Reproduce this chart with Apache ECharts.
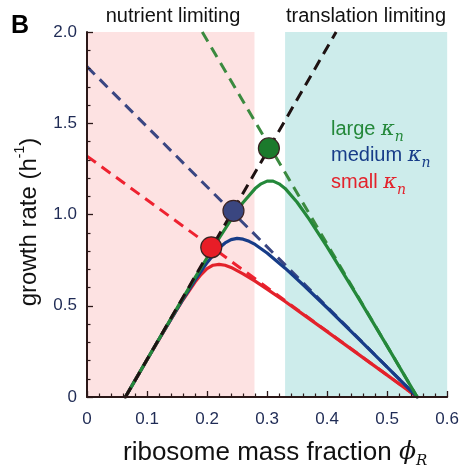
<!DOCTYPE html>
<html><head><meta charset="utf-8">
<script src="https://cdn.jsdelivr.net/npm/echarts@6/dist/echarts.min.js"></script>
<style>html,body{margin:0;padding:0;background:#fff}#c{width:462px;height:467px}</style>
</head><body><div id="c"></div>
<script>
// ---- data ----
const xTicks = [0, 0.1, 0.2, 0.3, 0.4, 0.5, 0.6];
const yTicks = [0, 0.5, 1.0, 1.5, 2.0];
const nutrientRegion = [0, 0.279];
const translationRegion = [0.33, 0.6];

const smallPhi  = [0.064,0.08,0.10,0.12,0.14,0.16,0.18,0.19,0.20,0.21,0.22,0.23,0.24,0.26,0.28,0.30,0.33,0.36,0.40,0.45,0.50,0.55];
const smallRate = [0,0.091,0.204,0.316,0.427,0.533,0.630,0.671,0.703,0.722,0.727,0.722,0.710,0.675,0.635,0.591,0.523,0.453,0.358,0.239,0.120,0];

const mediumPhi  = [0.064,0.08,0.10,0.12,0.14,0.16,0.18,0.20,0.22,0.23,0.24,0.25,0.26,0.27,0.28,0.30,0.33,0.36,0.40,0.45,0.50,0.55];
const mediumRate = [0,0.091,0.204,0.317,0.427,0.536,0.640,0.736,0.816,0.844,0.862,0.869,0.865,0.853,0.836,0.789,0.706,0.615,0.489,0.327,0.164,0];

const largePhi  = [0.064,0.08,0.10,0.12,0.14,0.16,0.18,0.20,0.22,0.24,0.26,0.28,0.29,0.30,0.31,0.32,0.33,0.35,0.37,0.40,0.45,0.50,0.55];
const largeRate = [0,0.091,0.205,0.318,0.431,0.543,0.654,0.763,0.870,0.972,1.066,1.142,1.168,1.183,1.183,1.168,1.143,1.067,0.975,0.823,0.554,0.279,0];

const translationPhi  = [0.064, 0.415];
const translationRate = [0, 2.0];
const nutLargePhi  = [0.192, 0.55];
const nutLargeRate = [2.0, 0];
const nutMediumPhi  = [0, 0.55];
const nutMediumRate = [1.81, 0];
const nutSmallPhi  = [0, 0.55];
const nutSmallRate = [1.32, 0];

const dotPhi  = [0.207, 0.244, 0.303];
const dotRate = [0.82, 1.02, 1.363];

// ---- styling ----
const SANS = "'Liberation Sans', Arial, Helvetica, sans-serif";
const SERIF = "'DejaVu Serif', 'Liberation Serif', serif";
const C = {
  greenSolid: '#24883a', greenDash: '#3b8a3f', greenDot: '#1b7a2c',
  blueSolid: '#173c88', blueDash: '#3a4682', blueDot: '#3a4680',
  redSolid: '#e3222b', redDash: '#ee2230', redDot: '#e81d27',
  black: '#1e1212', axis: '#2b1818', tick: '#1f2b55',
  pink: '#fde2e2', cyan: '#cdeceb'
};
const zip = (a, b) => a.map((v, i) => [v, b[i]]);
const fmt = v => (v === 0 ? '0' : v.toFixed(1));

function solid(name, phi, rate, color, z) {
  return { name, type: 'line', data: zip(phi, rate), smooth: false,
    showSymbol: false, symbol: 'none', z, lineStyle: { color, width: 3.2, cap: 'round', join: 'round' }, silent: true };
}
function dashed(name, phi, rate, color, z) {
  return { name, type: 'line', data: zip(phi, rate), showSymbol: false, symbol: 'none', z,
    lineStyle: { color, width: 3, type: [11, 7] }, silent: true };
}

const chart = echarts.init(document.getElementById('c'), null, { renderer: 'canvas' });
chart.setOption({
  animation: false,
  grid: { left: 87, right: 10, top: 32, bottom: 70, containLabel: false },
  xAxis: {
    type: 'value', min: xTicks[0], max: xTicks[xTicks.length - 1], interval: 0.1, z: 10,
    axisLine: { show: true, onZero: false, lineStyle: { color: C.axis, width: 2 } },
    axisTick: { show: true, inside: true, length: 6, lineStyle: { color: C.axis, width: 1.3 } },
    minorTick: { show: true, splitNumber: 5, length: 3.5, lineStyle: { color: C.axis, width: 1.2 } },
    splitLine: { show: false }, minorSplitLine: { show: false },
    axisLabel: { formatter: fmt, color: C.tick, fontSize: 17, fontFamily: SANS, margin: 14 }
  },
  yAxis: {
    type: 'value', min: yTicks[0], max: yTicks[yTicks.length - 1], interval: 0.5, z: 10,
    axisLine: { show: true, onZero: false, lineStyle: { color: C.axis, width: 2 } },
    axisTick: { show: true, inside: true, length: 6, lineStyle: { color: C.axis, width: 1.3 } },
    minorTick: { show: true, splitNumber: 5, length: 3.5, lineStyle: { color: C.axis, width: 1.2 } },
    splitLine: { show: false }, minorSplitLine: { show: false },
    axisLabel: { formatter: fmt, color: C.tick, fontSize: 17, fontFamily: SANS, margin: 10 }
  },
  series: [
    { name: 'regions', type: 'line', data: [], z: 0, silent: true,
      markArea: { silent: true, data: [
        [{ xAxis: nutrientRegion[0], yAxis: 0, itemStyle: { color: C.pink, opacity: 1 } }, { xAxis: nutrientRegion[1], yAxis: 2 }],
        [{ xAxis: translationRegion[0], yAxis: 0, itemStyle: { color: C.cyan, opacity: 1 } }, { xAxis: translationRegion[1], yAxis: 2 }]
      ] } },
    dashed('small nutrient', nutSmallPhi, nutSmallRate, C.redDash, 2),
    dashed('medium nutrient', nutMediumPhi, nutMediumRate, C.blueDash, 2),
    dashed('large nutrient', nutLargePhi, nutLargeRate, C.greenDash, 2),
    solid('small solid', smallPhi, smallRate, C.redSolid, 3),
    solid('medium solid', mediumPhi, mediumRate, C.blueSolid, 4),
    solid('large solid', largePhi, largeRate, C.greenSolid, 5),
    dashed('translation', translationPhi, translationRate, C.black, 7),
    { name: 'dots', type: 'scatter', z: 9, symbolSize: 21, silent: true,
      data: dotPhi.map((p, i) => ({ value: [p, dotRate[i]], itemStyle: {
        color: [C.redDot, C.blueDot, C.greenDot][i], opacity: 1, borderColor: '#3a2222', borderWidth: 1.2 } })) }
  ],
  graphic: [
    { type: 'text', x: 11, y: 14, z: 20, style: { text: 'B', font: 'bold 25px ' + SANS, fill: '#000', textVerticalAlign: 'top' } },
    { type: 'text', x: 173, y: 16, z: 20, style: { text: 'nutrient limiting', font: '20px ' + SANS, fill: '#111', textAlign: 'center', textVerticalAlign: 'middle' } },
    { type: 'text', x: 366, y: 16, z: 20, style: { text: 'translation limiting', font: '20px ' + SANS, fill: '#111', textAlign: 'center', textVerticalAlign: 'middle' } },
    ...[['large ', C.greenSolid, 119], ['medium ', C.blueSolid, 145.5], ['small ', C.redSolid, 172]].map(([t, col, y]) => ({
      type: 'text', x: 331, y, z: 20,
      style: { text: '{a|' + t + '}{k|κ}{s|n}', fill: col, textVerticalAlign: 'top', textAlign: 'left',
        rich: {
          a: { fontSize: 20, fontFamily: SANS, lineHeight: 22, verticalAlign: 'top', fill: col },
          k: { fontSize: 21, fontFamily: SERIF, fontStyle: 'italic', lineHeight: 22, verticalAlign: 'top', fill: col },
          s: { fontSize: 14, fontFamily: SERIF, fontStyle: 'italic', lineHeight: 14, padding: [11, 0, 0, 0], verticalAlign: 'top', fill: col }
        } } })),
    { type: 'text', x: 123, y: 440, z: 20,
      style: { text: '{a|ribosome mass fraction }{k|ϕ}{s|R}', fill: '#111', textVerticalAlign: 'top', textAlign: 'left',
        rich: {
          a: { fontSize: 26, fontFamily: SANS, lineHeight: 26, verticalAlign: 'top', fill: '#111' },
          k: { fontSize: 25, fontFamily: SERIF, fontStyle: 'italic', lineHeight: 26, verticalAlign: 'top', fill: '#111' },
          s: { fontSize: 15, fontFamily: SERIF, fontStyle: 'italic', lineHeight: 15, padding: [14, 0, 0, 0], verticalAlign: 'top', fill: '#111' }
        } } },
    { type: 'text', x: 25, y: 222, z: 20, rotation: Math.PI / 2,
      style: { text: '{a|growth rate (h}{s|-1}{a|)}', fill: '#111', textAlign: 'center', textVerticalAlign: 'middle',
        rich: {
          a: { fontSize: 24, fontFamily: SANS, lineHeight: 24, padding: [4, 0, 0, 0], verticalAlign: 'top', fill: '#111' },
          s: { fontSize: 14, fontFamily: SANS, lineHeight: 14, verticalAlign: 'top', fill: '#111' }
        } } }
  ]
});
</script>
</body></html>
